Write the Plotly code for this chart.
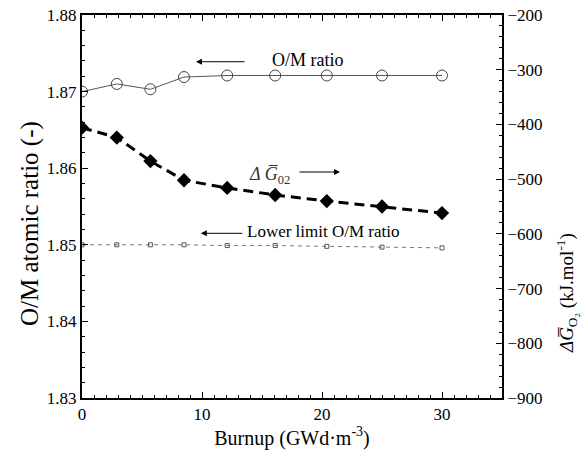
import plotly.graph_objects as go

burnup = [0, 2.9, 5.7, 8.5, 12.1, 16.1, 20.4, 25.0, 30.0]
om_ratio = [1.8700, 1.8710, 1.8703, 1.8719, 1.8721, 1.8721, 1.8721, 1.8721, 1.8721]
delta_g = [-406, -424, -467, -502, -516, -529, -540, -550, -562]
lower_limit = [1.8500, 1.8500, 1.8500, 1.8500, 1.8499, 1.8499, 1.8498, 1.8497, 1.8496]

FONT = "'Liberation Serif', 'Times New Roman', 'DejaVu Serif', serif"

fig = go.Figure()
fig.add_trace(go.Scatter(
    x=burnup, y=om_ratio, mode="lines+markers",
    line=dict(color="#555555", width=1),
    marker=dict(symbol="circle-open", size=11, color="#444444", line=dict(width=1)),
    showlegend=False))
fig.add_trace(go.Scatter(
    x=burnup, y=lower_limit, mode="lines+markers",
    line=dict(color="#777777", width=1, dash="4px,4px"),
    marker=dict(symbol="square-open", size=4, color="#555555", line=dict(width=1)),
    showlegend=False))
fig.add_trace(go.Scatter(
    x=burnup, y=delta_g, mode="lines+markers", yaxis="y2",
    line=dict(color="black", width=3, dash="10px,6px"),
    marker=dict(symbol="diamond", size=11, color="black"),
    showlegend=False))

tickfont = dict(family=FONT, size=17, color="black")

fig.update_layout(
    width=585, height=459,
    margin=dict(l=82, r=83, t=15, b=61),
    paper_bgcolor="white", plot_bgcolor="white",
    font=dict(family=FONT, color="black"),
    xaxis=dict(range=[0, 35], dtick=10, tick0=0, ticks="inside", ticklen=6,
               tickwidth=1, tickcolor="black", showline=True, linecolor="black",
               linewidth=2, mirror="ticks", showgrid=False, zeroline=False,
               tickfont=tickfont, automargin=False,
               minor=dict(dtick=1, ticks="inside", ticklen=3, tickcolor="black"),
               title=dict(text="Burnup (GWd·m<sup>-3</sup>)",
                          font=dict(family=FONT, size=20, color="black"), standoff=6)),
    yaxis=dict(range=[1.83, 1.88], dtick=0.01, tick0=1.83, tickformat=".2f",
               ticks="inside", ticklen=6, tickwidth=1, tickcolor="black",
               showline=True, linecolor="black", linewidth=2, showgrid=False,
               zeroline=False, tickfont=tickfont, automargin=False,
               minor=dict(dtick=0.002, ticks="inside", ticklen=3, tickcolor="black")),
    yaxis2=dict(range=[-900, -200], dtick=100, overlaying="y", side="right",
                ticks="inside", ticklen=6, tickwidth=1, tickcolor="black",
                showline=True, linecolor="black", linewidth=2, showgrid=False,
                zeroline=False, tickfont=tickfont, automargin=False,
                minor=dict(dtick=20, ticks="inside", ticklen=3, tickcolor="black")),
)

# Axis titles placed as rotated annotations (plot area: x 82..502 px, y 15..398 px)
fig.add_annotation(xref="paper", yref="paper", x=0, xshift=30 - 82,
                   y=(398 - 224) / 383, text="O/M atomic ratio (-)", textangle=-90,
                   showarrow=False, xanchor="center", yanchor="middle",
                   font=dict(family=FONT, size=25, color="black"))
fig.add_annotation(xref="paper", yref="paper", x=1, xshift=566 - 502,
                   y=(398 - 293) / 383,
                   text="<i>ΔG̅</i><sub>O₂</sub> (kJ.mol<sup>-1</sup>)", textangle=-90,
                   showarrow=False, xanchor="center", yanchor="middle",
                   font=dict(family=FONT, size=19, color="black"))

arrow_style = dict(showarrow=True, arrowhead=2, arrowsize=1.2, arrowwidth=1,
                   arrowcolor="black", text="", axref="pixel", ayref="pixel")

# O/M ratio label
fig.add_annotation(x=9.5, y=1.8739, ax=50, ay=0, **arrow_style)
fig.add_annotation(x=18.8, y=1.8741, text="O/M ratio", showarrow=False,
                   font=dict(family=FONT, size=18, color="black"))
# Delta G label
fig.add_annotation(x=21.5, y=1.8595, ax=-42, ay=0, **arrow_style)
fig.add_annotation(x=15.6, y=1.8590, text="<i>Δ G̅</i><sub>02</sub>", showarrow=False,
                   font=dict(family=FONT, size=18, color="#333333"))
# Lower limit label
fig.add_annotation(x=9.9, y=1.8515, ax=43, ay=0, **arrow_style)
fig.add_annotation(x=20.1, y=1.8517, text="Lower limit O/M ratio", showarrow=False,
                   font=dict(family=FONT, size=17, color="black"))

fig.write_html("out.html", config={"displayModeBar": False},
               post_script="document.body.style.margin='0';document.body.style.overflow='hidden';")
